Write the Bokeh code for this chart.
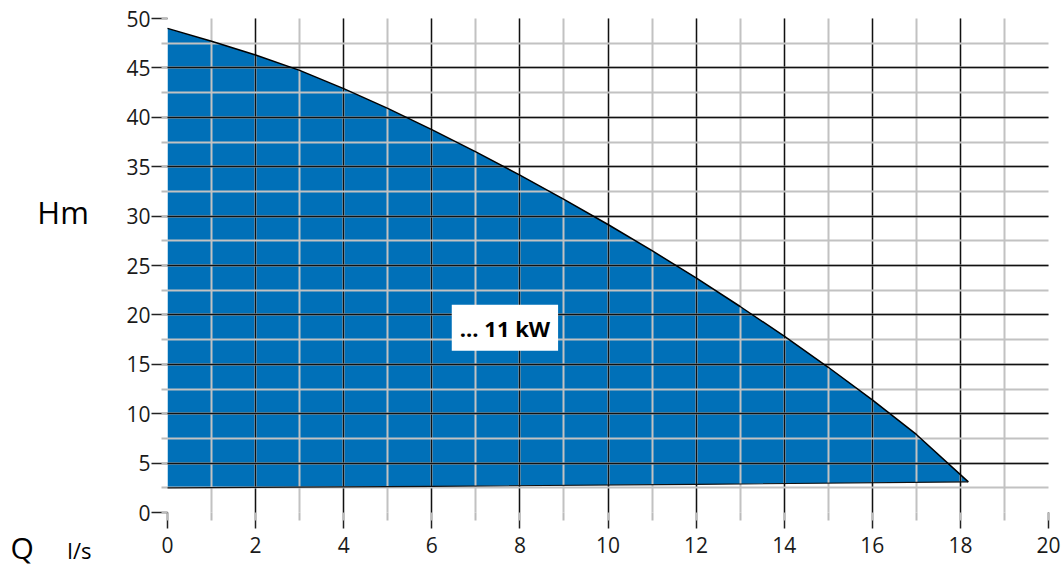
from bokeh.plotting import figure
from bokeh.models import Label, Range1d, SingleIntervalTicker
from bokeh.embed import file_html
from bokeh.resources import INLINE

# Curve data (Q in l/s, H in m)
q_top = [0, 1, 2, 3, 4, 5, 6, 7, 8, 9, 10, 11, 12, 13, 14, 15, 16, 17, 18.18]
h_top = [49.0, 47.7, 46.3, 44.75, 42.9, 40.9, 38.75, 36.5, 34.15, 31.7, 29.15, 26.5, 23.75, 20.85, 17.85, 14.7, 11.4, 7.9, 3.1]
q_bot = [0, 6, 12, 18.18]
h_bot = [2.5, 2.65, 2.85, 3.1]
label_text = "... 11 kW"
y_label = "Hm"
x_label_q = "Q"
x_label_unit = "l/s"

FONT = "Open Sans"

p = figure(width=1064, height=567, output_backend="svg", toolbar_location=None,
           x_range=Range1d(0, 20), y_range=Range1d(0, 50),
           min_border_left=167, min_border_right=16, min_border_top=18, min_border_bottom=55)
p.outline_line_color = None
p.background_fill_color = "white"

# Filled area
xs = list(q_top) + list(reversed(q_bot))
ys = list(h_top) + list(reversed(h_bot))
p.patch(xs, ys, fill_color="#0070b8", line_color=None)
p.line(q_top, h_top, line_color="black", line_width=1.5, level="annotation")
p.line(q_bot, h_bot, line_color="#111111", line_width=1.2, level="annotation")

# Axes
p.xaxis.ticker = SingleIntervalTicker(interval=2, num_minor_ticks=2)
p.yaxis.ticker = SingleIntervalTicker(interval=5, num_minor_ticks=2)
for ax in (p.xaxis[0], p.yaxis[0]):
    ax.axis_line_color = None
    ax.major_tick_line_color = "#222222"
    ax.major_tick_line_width = 1.5
    ax.major_tick_out = 16
    ax.major_tick_in = 0
    ax.minor_tick_line_color = "#bbbbbb"
    ax.minor_tick_line_width = 2
    ax.minor_tick_in = 0
    ax.major_label_text_font = FONT
    ax.major_label_text_font_size = "21px"
    ax.major_label_text_color = "#1a1a1a"
p.xaxis.minor_tick_out = 8
p.yaxis.minor_tick_out = 6
p.xaxis.major_label_standoff = 8
p.yaxis.major_label_standoff = 1

# Grid on top of the fill
for g in (p.xgrid[0], p.ygrid[0]):
    g.level = "guide"
    g.grid_line_color = "#111111"
    g.grid_line_width = 1.3
    g.minor_grid_line_color = "#c2c2c2"
    g.minor_grid_line_width = 2

# Box label
p.add_layout(Label(x=7.66, y=18.7, text=label_text, text_align="center", text_baseline="middle",
                   text_font=FONT, text_font_size="22px", text_font_style="bold",
                   text_color="black", background_fill_color="white",
                   padding=8, level="overlay"))

# Axis titles (placed in a side panel so they are not clipped to the frame)
p.add_layout(Label(x=-2.37, y=30.4, text=y_label, text_align="center", text_baseline="middle",
                   text_font=FONT, text_font_size="31px", text_color="black"), "left")
p.add_layout(Label(x=-3.3, y=-3.55, text=x_label_q, text_align="center", text_baseline="middle",
                   text_font=FONT, text_font_size="30px", text_color="black"), "left")
p.add_layout(Label(x=-2.0, y=-3.8, text=x_label_unit, text_align="center", text_baseline="middle",
                   text_font=FONT, text_font_size="22px", text_color="black"), "left")

open("out.html", "w").write(file_html(p, INLINE))
